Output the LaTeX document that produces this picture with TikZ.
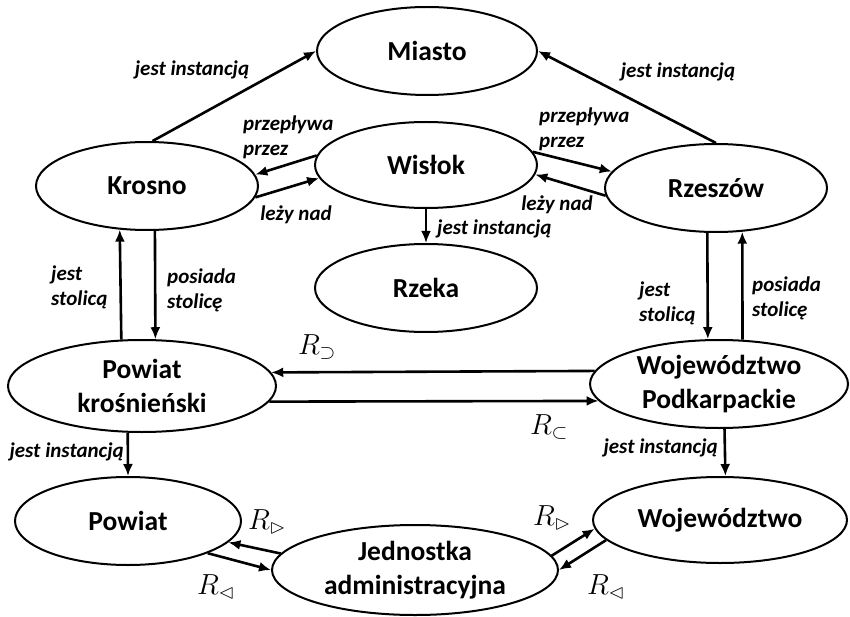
\RequirePackage{fix-cm}
\documentclass[tikz,border=0pt]{standalone}
\usepackage{fontspec}
\usepackage{amssymb}
\setmainfont{Carlito}
\usetikzlibrary{shapes.geometric,arrows.meta}
\begin{document}
\begin{tikzpicture}[x=1pt,y=-1pt,
  concept/.style={ellipse,draw,line width=2pt,inner sep=0pt,align=center,
    font=\fontsize{27.5}{34}\selectfont\bfseries},
  rel/.style={line width=2.6pt,-{Latex[length=12pt,width=10pt]}},
  lbl/.style={inner sep=0pt,align=left,font=\fontsize{21}{25}\selectfont\bfseries\itshape},
  rlbl/.style={inner sep=0pt,font=\fontsize{29}{34}\selectfont}]
\useasboundingbox (0,0) rectangle (850,617);

% concepts
\node[concept,minimum width=220pt,minimum height=88pt] (miasto)  at (427,51)  {Miasto};
\node[concept,minimum width=222pt,minimum height=86pt] (wislok)  at (426,165) {Wisłok};
\node[concept,minimum width=222pt,minimum height=88pt] (krosno)  at (147,186) {Krosno};
\node[concept,minimum width=222pt,minimum height=88pt] (rzeszow) at (716,188) {Rzeszów};
\node[concept,minimum width=222pt,minimum height=88pt] (rzeka)   at (426,288) {Rzeka};
\node[concept,minimum width=268pt,minimum height=92pt] (pk)      at (142,386) {Powiat\\krośnieński};
\node[concept,minimum width=258pt,minimum height=88pt] (wp)      at (719,384) {Województwo\\Podkarpackie};
\node[concept,minimum width=226pt,minimum height=88pt] (powiat)  at (128,521) {Powiat};
\node[concept,minimum width=286pt,minimum height=90pt] (jedn)    at (415,570) {Jednostka\\administracyjna};
\node[concept,minimum width=254pt,minimum height=86pt] (woj)     at (720,520) {Województwo};

% instance-of links
\draw[rel] (krosno.83.5) -- (miasto.180);
\draw[rel] (rzeszow.90) -- (miasto.0);
\draw[rel] (wislok.south) -- (rzeka.north);
\draw[rel] (pk.253) -- (powiat.north);
\draw[rel] (wp.277.8) -- (woj.83.4);

% river links
\draw[rel] (wislok.175) -- (krosno.6);
\draw[rel] (krosno.354) -- (wislok.187);
\draw[rel] (wislok.7) -- (rzeszow.171);
\draw[rel] (rzeszow.184) -- (wislok.355);

% capital links
\draw[rel] (pk.114.8) -- (krosno.238.7);
\draw[rel] (krosno.280.3) -- (pk.74.2);
\draw[rel] (rzeszow.259.7) -- (wp.104.1);
\draw[rel] (wp.62) -- (rzeszow.301.3);

% containment links
\draw[rel] (wp.174.5) -- (pk.6.26);
\draw[rel] (pk.353.25) -- (wp.188.1);

% administrative unit links
\draw[rel] (jedn.173.6) -- (powiat.348);
\draw[rel] (powiat.338.6) -- (jedn.180);
\draw[rel] (jedn.6.2) -- (woj.184.8);
\draw[rel] (woj.190) -- (jedn.0);

% relation labels
\node[lbl] (l1) at (192,70) {jest instancją};
\node[lbl] (l2) at (678,72) {jest instancją};
\node[lbl,anchor=west] (l3) at (243,137) {przepływa\\przez};
\node[lbl] (l4) at (296,215) {leży nad};
\node[lbl,anchor=west] (l5) at (539,129) {przepływa\\przez};
\node[lbl] (l6) at (557,205) {leży nad};
\node[lbl,anchor=west] (l7) at (437,229) {jest instancją};
\node[lbl,anchor=west] (l8) at (51,287) {jest\\stolicą};
\node[lbl,anchor=west] (l9) at (167,290) {posiada\\stolicę};
\node[lbl,anchor=west] (l10) at (639,303) {jest\\stolicą};
\node[lbl,anchor=west] (l11) at (752,298) {posiada\\stolicę};
\node[lbl,anchor=east] (l12) at (124,452) {jest instancją};
\node[lbl,anchor=east] (l13) at (718,448) {jest instancją};

\node[rlbl] (r1) at (317,347) {$R_{\supset}$};
\node[rlbl] (r2) at (549,427) {$R_{\subset}$};
\node[rlbl] (r3) at (267,522) {$R_{\vartriangleright}$};
\node[rlbl] (r4) at (216,587) {$R_{\vartriangleleft}$};
\node[rlbl] (r5) at (552,518) {$R_{\vartriangleright}$};
\node[rlbl] (r6) at (606,587) {$R_{\vartriangleleft}$};
\end{tikzpicture}
\end{document}
